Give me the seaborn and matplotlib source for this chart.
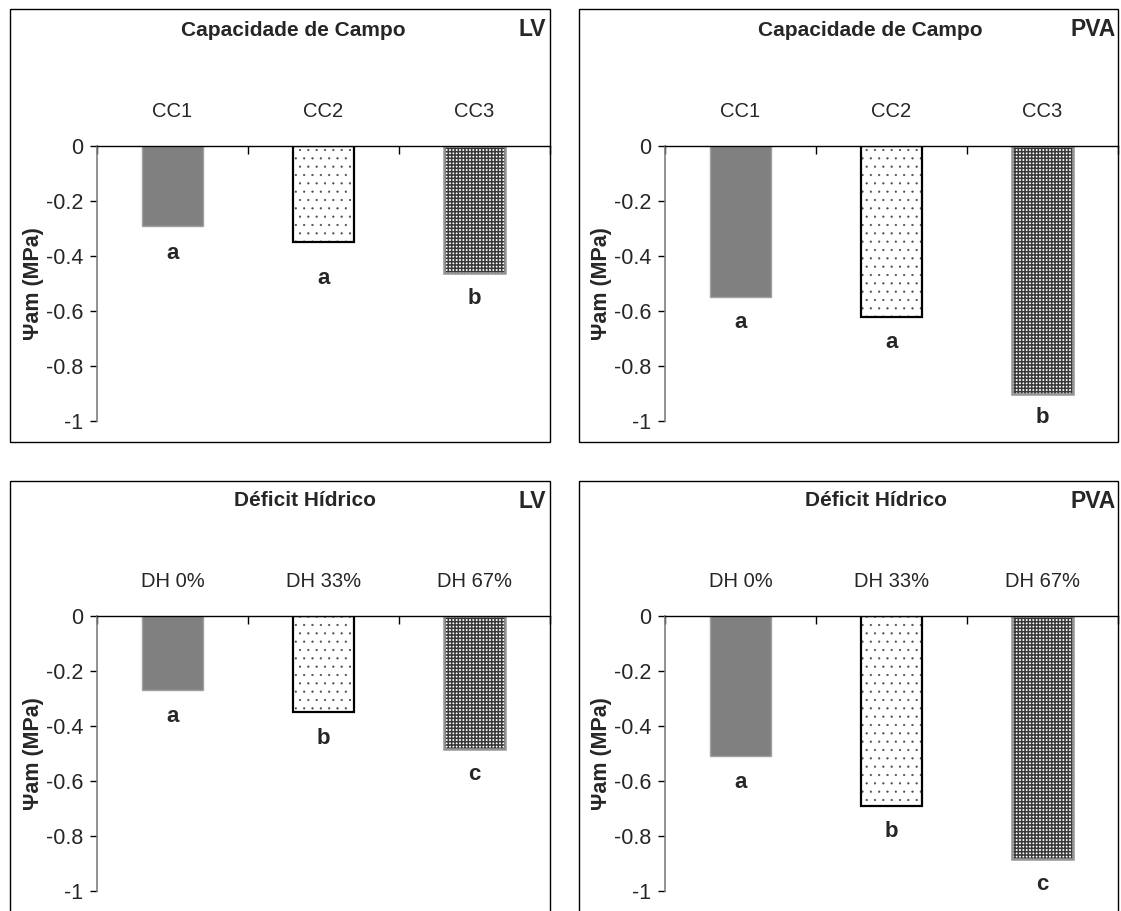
import matplotlib
matplotlib.use("Agg")
import matplotlib.pyplot as plt
import seaborn as sns
import pandas as pd
from matplotlib.patches import Rectangle

sns.set_style("white")
plt.rcParams['font.family'] = ['Liberation Sans', 'DejaVu Sans']

# ---------------- data ----------------
cc_categories = ["CC1", "CC2", "CC3"]
dh_categories = ["DH 0%", "DH 33%", "DH 67%"]

cc_lv_values = [-0.29, -0.35, -0.46]
cc_pva_values = [-0.55, -0.62, -0.90]
dh_lv_values = [-0.27, -0.35, -0.485]
dh_pva_values = [-0.51, -0.69, -0.885]

cc_lv_letters = ["a", "a", "b"]
cc_pva_letters = ["a", "a", "b"]
dh_lv_letters = ["a", "b", "c"]
dh_pva_letters = ["a", "b", "c"]

y_ticks = [0, -0.2, -0.4, -0.6, -0.8, -1]
y_tick_labels = ["0", "-0.2", "-0.4", "-0.6", "-0.8", "-1"]

W, H = 1121, 911
fig = plt.figure(figsize=(W / 100, H / 100), dpi=100)


def px_rect(x0, top, x1, bottom):
    return [x0 / W, 1 - bottom / H, (x1 - x0) / W, (bottom - top) / H]


panels = [
    dict(cats=cc_categories, vals=cc_lv_values, letters=cc_lv_letters,
         title="Capacidade de Campo", tag="LV",
         ax=(97, 146, 550, 421), box=(10, 9, 550, 442),
         title_xy=(293, 30), tag_xy=(546, 30), gaps=[0.10, 0.13, 0.096]),
    dict(cats=cc_categories, vals=cc_pva_values, letters=cc_pva_letters,
         title="Capacidade de Campo", tag="PVA",
         ax=(665, 146, 1118, 421), box=(579, 9, 1118, 442),
         title_xy=(870, 30), tag_xy=(1116, 30), gaps=[0.093, 0.093, 0.087]),
    dict(cats=dh_categories, vals=dh_lv_values, letters=dh_lv_letters,
         title="Déficit Hídrico", tag="LV",
         ax=(97, 616, 550, 891), box=(10, 481, 550, 920),
         title_xy=(305, 501), tag_xy=(546, 501), gaps=[0.095, 0.097, 0.09]),
    dict(cats=dh_categories, vals=dh_pva_values, letters=dh_pva_letters,
         title="Déficit Hídrico", tag="PVA",
         ax=(665, 616, 1118, 891), box=(579, 481, 1118, 920),
         title_xy=(876, 501), tag_xy=(1116, 501), gaps=[0.097, 0.094, 0.09]),
]

bar_styles = [
    dict(facecolor="#808080", edgecolor="#a0a0a0", hatch=None, lw=1.0,
         hcolor=None, hlw=1.0),
    dict(facecolor="white", edgecolor="black", hatch="..", lw=1.6,
         hcolor="#4a4a4a", hlw=0.35),
    dict(facecolor="white", edgecolor="#959595", hatch="+++++", lw=1.8,
         hcolor="#383838", hlw=1.1),
]

for p in panels:
    bx0, btop, bx1, bbot = p["box"]
    fig.patches.append(Rectangle((bx0 / W, 1 - bbot / H), (bx1 - bx0) / W,
                                 (bbot - btop) / H, transform=fig.transFigure,
                                 fill=False, edgecolor="black", lw=1.0,
                                 zorder=0))
    ax = fig.add_axes(px_rect(*p["ax"]))
    df = pd.DataFrame({"cat": p["cats"], "val": p["vals"]})
    sns.barplot(data=df, x="cat", y="val", order=p["cats"], width=0.4,
                ax=ax, color="gray", saturation=1, errorbar=None)
    bars = list(ax.patches)
    for patch, st in zip(bars, bar_styles):
        patch.set_facecolor(st["facecolor"])
        if st["hatch"]:
            patch.set_hatch(st["hatch"])
            if hasattr(patch, "set_hatch_linewidth"):
                patch.set_hatch_linewidth(st["hlw"])
            patch.set_edgecolor(st["hcolor"])
            patch.set_linewidth(0)
            # outline drawn on top, following the bar drawn by seaborn
            ax.add_patch(Rectangle(patch.get_xy(), patch.get_width(),
                                   patch.get_height(), fill=False,
                                   edgecolor=st["edgecolor"], lw=st["lw"],
                                   zorder=patch.get_zorder() + 0.1))
        else:
            patch.set_edgecolor(st["edgecolor"])
            patch.set_linewidth(st["lw"])

    ax.set_ylim(-1, 0)
    ax.set_xlim(-0.5, 2.5)
    ax.set_yticks(y_ticks)
    ax.set_yticklabels(y_tick_labels, fontsize=15.5)
    ax.tick_params(axis="y", direction="out", length=5, width=1,
                   color="black", pad=5, left=True)

    ax.xaxis.tick_top()
    ax.set_xticks(range(len(p["cats"])))
    ax.set_xticklabels(p["cats"], fontsize=14.5)
    ax.tick_params(axis="x", which="major", length=0, pad=18)
    ax.set_xticks([-0.5, 0.5, 1.5, 2.5], minor=True)
    ax.tick_params(axis="x", which="minor", direction="in", length=6,
                   width=1, color="black", top=True)
    ax.set_xlabel("")

    for side in ["bottom", "right"]:
        ax.spines[side].set_visible(False)
    ax.spines["top"].set_color("black")
    ax.spines["top"].set_linewidth(1.0)
    ax.spines["top"].set_zorder(5)
    ax.spines["left"].set_color("#7f7f7f")
    ax.spines["left"].set_linewidth(1.2)
    ax.patch.set_alpha(0)

    ax.set_ylabel("Ψam (MPa)", fontsize=15.5, fontweight="bold")
    ax.yaxis.set_label_coords(-0.117, 0.5)

    for i, (v, letter, g) in enumerate(zip(p["vals"], p["letters"], p["gaps"])):
        ax.text(i, v - g, letter, ha="center", va="center", fontsize=16,
                fontweight="bold")

    tx, ty = p["title_xy"]
    fig.text(tx / W, 1 - ty / H, p["title"], ha="center", va="center",
             fontsize=15, fontweight="bold")
    gx, gy = p["tag_xy"]
    fig.text(gx / W, 1 - gy / H, p["tag"], ha="right", va="center",
             fontsize=16.5, fontweight="bold")

fig.savefig("out.png", dpi=100)
